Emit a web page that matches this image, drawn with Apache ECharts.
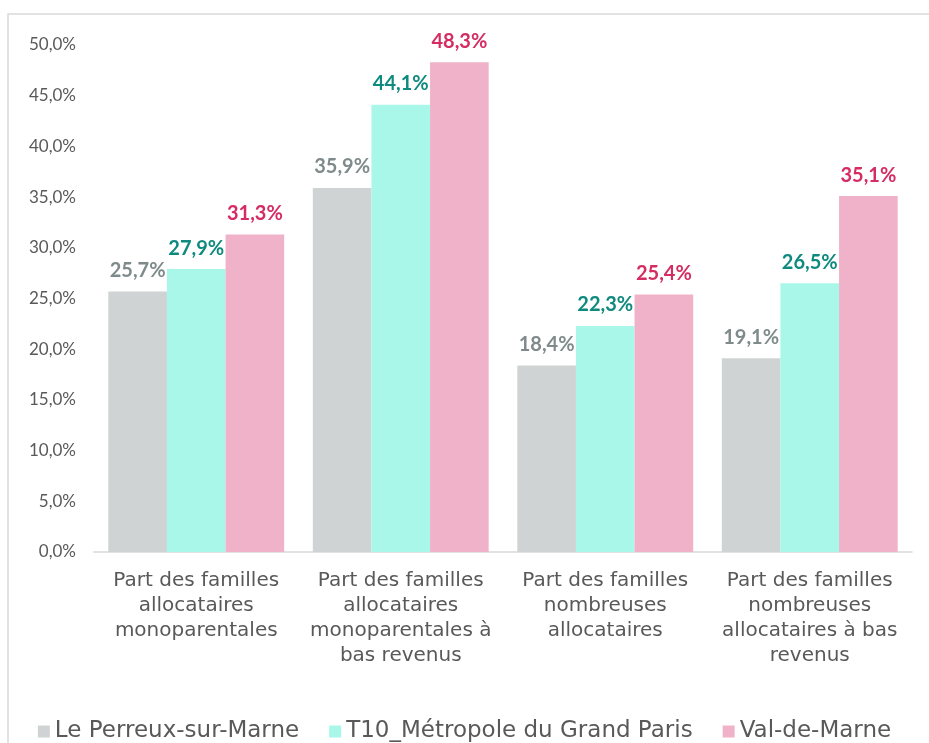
<!DOCTYPE html>
<html>
<head>
<meta charset="utf-8">
<script src="https://cdn.jsdelivr.net/npm/echarts@6/dist/echarts.min.js"></script>
<style>
html,body{margin:0;padding:0;background:#fff;}
#container{width:929px;height:743px;}
</style>
</head>
<body>
<div id="container"></div>
<script>
var categories = [
    'Part des familles\nallocataires\nmonoparentales',
    'Part des familles\nallocataires\nmonoparentales à\nbas revenus',
    'Part des familles\nnombreuses\nallocataires',
    'Part des familles\nnombreuses\nallocataires à bas\nrevenus'
];
var seriesNames = ['Le Perreux-sur-Marne', 'T10_Métropole du Grand Paris', 'Val-de-Marne'];
var perreux = [25.7, 35.9, 18.4, 19.1];
var metropole = [27.9, 44.1, 22.3, 26.5];
var valDeMarne = [31.3, 48.3, 25.4, 35.1];

var barColors = ['#D0D3D4', '#A8F7E9', '#F0B2C8'];
var labelColors = ['#7F8B8A', '#0E8A7E', '#D42C63'];

function pct(v){
    return v.toFixed(1).replace('.', ',') + '%';
}

var fontLato = 'Lato, "Noto Sans", sans-serif';
var fontWide = '"DejaVu Sans", Lato, sans-serif';

var dom = document.getElementById('container');
var myChart = echarts.init(dom);

function makeSeries(name, data, i){
    return {
        name: name,
        type: 'bar',
        data: data,
        barGap: '0%',
        barCategoryGap: '14%',
        itemStyle: {color: barColors[i]},
        label: {
            show: true,
            position: 'top',
            distance: 11,
            color: labelColors[i],
            fontFamily: fontLato,
            fontWeight: 'bold',
            fontSize: 20,
            formatter: function(p){ return pct(p.value); }
        }
    };
}

var option = {
    animation: false,
    graphic: [{
        type: 'rect',
        shape: {x: 8, y: 14, width: 1000, height: 800},
        style: {fill: 'none', stroke: '#D9D9D9', lineWidth: 1.5},
        silent: true
    }],
    legend: {
        bottom: -5,
        left: 'center',
        itemWidth: 12,
        itemHeight: 12,
        itemGap: 30,
        icon: 'rect',
        textStyle: {color: '#595959', fontSize: 23, fontFamily: fontWide},
        data: seriesNames
    },
    grid: {
        top: 45,
        left: 94,
        right: 17,
        bottom: 191,
        containLabel: false
    },
    xAxis: {
        type: 'category',
        data: categories,
        axisLine: {lineStyle: {color: '#D9D9D9', width: 1.5}},
        axisTick: {show: false},
        axisLabel: {
            color: '#595959',
            fontSize: 20,
            fontFamily: fontWide,
            lineHeight: 25,
            margin: 16,
            interval: 0
        }
    },
    yAxis: {
        type: 'value',
        min: 0,
        max: 50,
        interval: 5,
        splitLine: {show: false},
        axisLine: {show: false},
        axisTick: {show: false},
        axisLabel: {
            color: '#595959',
            fontSize: 17,
            fontFamily: fontLato,
            margin: 18,
            formatter: function(v){ return pct(v); }
        }
    },
    series: [
        makeSeries(seriesNames[0], perreux, 0),
        makeSeries(seriesNames[1], metropole, 1),
        makeSeries(seriesNames[2], valDeMarne, 2)
    ]
};

myChart.setOption(option, true);
</script>
</body>
</html>
